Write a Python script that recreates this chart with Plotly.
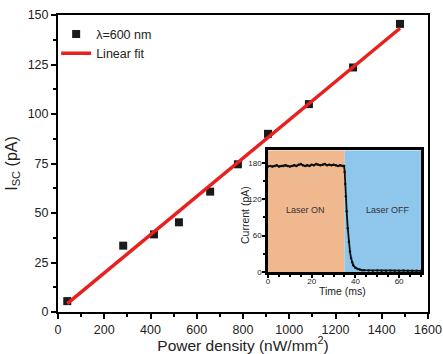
import numpy as np
import plotly.graph_objects as go

# Main data
power = [40, 282, 415, 523, 658, 778, 908, 1085, 1276, 1479]
isc = [5.5, 33.5, 39.2, 45.3, 60.8, 74.6, 90.0, 105.0, 123.5, 145.5]

# Inset data (time in ms, current in pA)
t_ms = [0, 1, 2, 3, 4, 5, 6, 7, 8, 9, 10, 11, 12, 13, 14, 15, 16, 17, 18, 19, 20,
        21, 22, 23, 24, 25, 26, 27, 28, 29, 30, 31, 32, 33, 34, 34.8,
        35.1, 35.3, 35.6, 36.0, 36.5, 37.0, 37.5, 38.0, 38.5, 39.0, 40.0, 41.0, 42.0,
        43.0, 44.0, 46.0, 48.0, 50.0, 52.0, 54.0, 56.0, 58.0, 60.0, 62.0, 64.0, 66.0, 68.0, 70.0]
current = [174, 175, 174, 175, 176, 174, 175, 175, 176, 175, 174, 175, 176, 175, 177, 178, 176, 175, 176, 175, 177,
           176, 178, 177, 176, 177, 178, 176, 177, 176, 177, 176, 175, 176, 175, 175,
           165, 145, 125, 100, 72, 50, 34, 23, 16, 11, 7, 5, 4,
           3, 3, 2.5, 2, 2.5, 2, 2, 2.5, 2, 2, 2.5, 2, 2, 2, 2]

# Inset regions
on_range = [0, 35]
off_range = [35, 70]
inset_ymax = 201

x_ticks = [0, 200, 400, 600, 800, 1000, 1200, 1400, 1600]
y_ticks = [0, 25, 50, 75, 100, 125, 150]

coef = np.polyfit(power, isc, 1)
fit_x = [power[0], power[-1]]
fit_y = [coef[0] * v + coef[1] for v in fit_x]

FONT = "Liberation Sans, Arial, sans-serif"

fig = go.Figure()
fig.add_trace(go.Scatter(x=power, y=isc, mode="markers", name="λ=600 nm",
                         marker=dict(symbol="square", size=8, color="#1a1a1a")))
fig.add_trace(go.Scatter(x=fit_x, y=fit_y, mode="lines", name="Linear fit",
                         line=dict(color="#e8201e", width=3.5)))

# inset backgrounds as filled traces
for rng, col in [(on_range, "#efb88e"), (off_range, "#8ec6ec")]:
    fig.add_trace(go.Scatter(x=[rng[0], rng[1], rng[1], rng[0], rng[0]],
                             y=[0, 0, inset_ymax, inset_ymax, 0],
                             fill="toself", fillcolor=col, mode="none",
                             xaxis="x2", yaxis="y2", showlegend=False, hoverinfo="skip"))

fig.add_trace(go.Scatter(x=t_ms, y=current, mode="lines+markers", xaxis="x2", yaxis="y2",
                         showlegend=False, line=dict(color="#111111", width=1.8),
                         marker=dict(size=2.5, color="#111111")))

fig.add_annotation(x=17, y=102, xref="x2", yref="y2", text="Laser ON", showarrow=False,
                   font=dict(family=FONT, size=9, color="#333333"))
fig.add_annotation(x=55, y=102, xref="x2", yref="y2", text="Laser OFF", showarrow=False,
                   font=dict(family=FONT, size=9, color="#333333"))
# inset axis titles
fig.add_annotation(x=0.770, y=0.071, xref="paper", yref="paper", text="Time (ms)",
                   xanchor="center", yanchor="middle",
                   showarrow=False, font=dict(family=FONT, size=10.5, color="#222222"))
fig.add_annotation(x=0.5054, y=0.3266, xref="paper", yref="paper", text="Current (pA)",
                   xanchor="center", yanchor="middle",
                   textangle=-90, showarrow=False, font=dict(family=FONT, size=10.5, color="#222222"))

axis_common = dict(showgrid=False, zeroline=False, showline=True, linecolor="black",
                   mirror=True, ticks="outside", tickcolor="black", tickwidth=1.5,
                   automargin=False)

fig.update_layout(
    width=443, height=354,
    margin=dict(l=58, r=15, t=15, b=42),
    paper_bgcolor="white", plot_bgcolor="white",
    font=dict(family=FONT, color="#222222"),
    xaxis=dict(range=[0, 1600], tickvals=x_ticks, linewidth=2, ticklen=5,
               tickfont=dict(size=12.5),
               title=dict(text="Power density (nW/mm<sup>2</sup>)", font=dict(size=15.5), standoff=8),
               minor=dict(ticks="outside", dtick=100, ticklen=3, tickcolor="black", tickwidth=1.5),
               **axis_common),
    yaxis=dict(range=[0, 150], tickvals=y_ticks, linewidth=2, ticklen=5,
               tickfont=dict(size=12.5),
               title=dict(text="I<sub>SC</sub> (pA)", font=dict(size=16), standoff=6),
               minor=dict(ticks="outside", dtick=12.5, ticklen=3, tickcolor="black", tickwidth=1.5),
               **axis_common),
    xaxis2=dict(domain=[0.5676, 0.981], anchor="y2", range=[0, 70], tickvals=[0, 20, 40, 60],
                linewidth=2.5, tickfont=dict(size=8), ticklen=3, ticklabelstandoff=-3,
                minor=dict(ticks="outside", dtick=5, ticklen=2, tickcolor="black"),
                **axis_common),
    yaxis2=dict(domain=[0.1347, 0.545], anchor="x2", range=[0, inset_ymax], tickvals=[0, 60, 120, 180],
                linewidth=2.5, tickfont=dict(size=8), ticklen=3, ticklabelstandoff=-1,
                minor=dict(ticks="outside", dtick=30, ticklen=2, tickcolor="black"),
                **axis_common),
    legend=dict(x=-0.005, y=0.985, xanchor="left", yanchor="top", bgcolor="rgba(0,0,0,0)",
                font=dict(size=12.5), tracegroupgap=0, itemwidth=30),
)

fig.write_html("out.html")
